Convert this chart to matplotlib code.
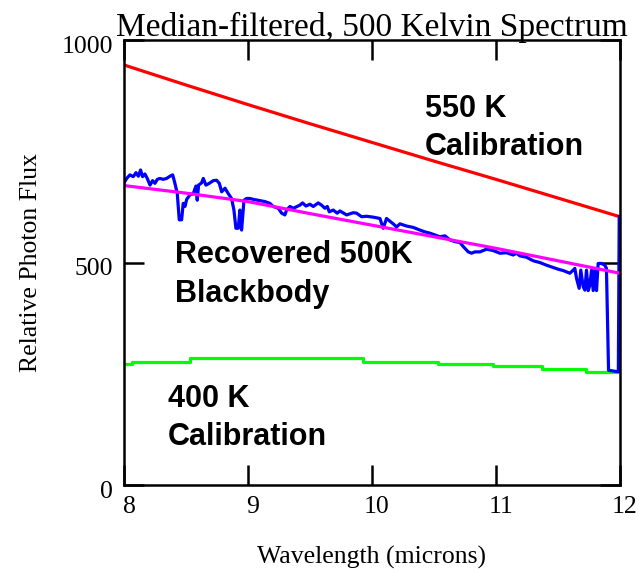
import numpy as np
import matplotlib.pyplot as plt
import matplotlib.transforms as mtransforms

# spectre filtre (median) 500 K
wl_blue = [8.000, 8.022, 8.048, 8.075, 8.097, 8.116, 8.134, 8.150, 8.169, 8.188,
           8.210, 8.231, 8.250, 8.269, 8.290, 8.317, 8.344, 8.371, 8.393, 8.411,
           8.430, 8.446, 8.465, 8.478, 8.492, 8.506, 8.532, 8.559, 8.581, 8.591,
           8.602, 8.626, 8.640, 8.661, 8.688, 8.720, 8.747, 8.769, 8.788, 8.815,
           8.841, 8.868, 8.887, 8.903, 8.922, 8.935, 8.949, 8.968, 8.989, 9.016,
           9.043, 9.097, 9.137, 9.177, 9.204, 9.245, 9.272, 9.298, 9.312, 9.339,
           9.366, 9.419, 9.441, 9.468, 9.500, 9.527, 9.567, 9.594, 9.621, 9.640,
           9.656, 9.688, 9.720, 9.742, 9.796, 9.849, 9.876, 9.917, 9.957, 10.011,
           10.065, 10.091, 10.118, 10.172, 10.199, 10.226, 10.280, 10.333, 10.387, 10.427,
           10.468, 10.508, 10.548, 10.589, 10.629, 10.669, 10.710, 10.737, 10.777, 10.804,
           10.831, 10.871, 10.925, 10.978, 11.032, 11.086, 11.140, 11.167, 11.194, 11.247,
           11.301, 11.355, 11.409, 11.462, 11.503, 11.543, 11.570, 11.597, 11.624, 11.637,
           11.651, 11.672, 11.685, 11.704, 11.718, 11.731, 11.745, 11.758, 11.772, 11.785,
           11.798, 11.812, 11.825, 11.852, 11.879, 11.892, 11.909, 11.974, 11.988, 11.995]
flux_blue = [679, 689, 697, 693, 702, 694, 708, 693, 699, 689,
             674, 684, 678, 687, 689, 687, 689, 694, 697, 678,
             655, 596, 596, 633, 626, 642, 652, 655, 672, 640,
             674, 679, 689, 674, 678, 684, 685, 678, 659, 667,
             655, 644, 618, 577, 577, 618, 573, 640, 644, 644,
             642, 639, 637, 633, 626, 622, 611, 607, 618, 626,
             622, 629, 634, 627, 631, 626, 634, 629, 622, 626,
             614, 618, 611, 616, 607, 612, 611, 603, 604, 602,
             599, 577, 599, 587, 580, 587, 582, 579, 573, 569,
             566, 562, 558, 560, 551, 547, 545, 536, 524, 521,
             524, 524, 530, 527, 521, 522, 517, 521, 515, 512,
             504, 500, 494, 489, 485, 482, 479, 476, 483, 487,
             464, 442, 483, 446, 438, 483, 437, 449, 483, 437,
             483, 437, 498, 498, 494, 487, 258, 255, 255, 603]

# corps noir 500 K reconstruit
wl_fit = [8.0, 8.5, 9.0, 9.5, 10.0, 10.5, 11.0, 11.5, 12.0]
flux_fit = [673, 656, 637, 610, 584, 558, 532, 504, 476]

# calibration 550 K
wl_550 = [8.0, 8.5, 9.0, 9.5, 10.0, 10.5, 11.0, 11.5, 12.0]
flux_550 = [944, 899, 855, 812, 770, 728, 687, 645, 603]

# calibration 400 K (paliers)
wl_400 = [8.0, 8.065, 8.53, 9.93, 10.53, 10.98, 11.37, 11.73, 12.0]
flux_400 = [272, 277, 285, 277, 272, 267, 261, 255, 255]

serif = ['Liberation Serif', 'DejaVu Serif']
sans = ['Liberation Sans', 'DejaVu Sans']

fig = plt.figure(figsize=(6.39, 5.72), dpi=100)
ax = fig.add_axes([0.194, 0.152, 0.776, 0.778])

ax.plot(wl_550, flux_550, color='#ff0000', lw=2.3)
ax.plot(wl_400, flux_400, color='#00ff00', lw=2.3, drawstyle='steps-post')
ax.plot(wl_blue, flux_blue, color='#0000ff', lw=2.3)
ax.plot(wl_fit, flux_fit, color='#ff00ff', lw=2.3)

ax.set_xlim(8, 12)
ax.set_ylim(0, 1000)
ax.set_xticks([8, 9, 10, 11, 12])
ax.set_yticks([0, 500, 1000])

for s in ax.spines.values():
    s.set_linewidth(1.8)
ax.tick_params(direction='in', length=14.5, width=1.8, top=True, right=True,
               labelsize=18.5)
ax.tick_params(axis='x', pad=8)
ax.tick_params(axis='y', pad=8)
for lab in ax.get_xticklabels() + ax.get_yticklabels():
    lab.set_fontfamily(serif)
# decalage des etiquettes comme sur l'original
dx = mtransforms.ScaledTranslation(5/100, 0, fig.dpi_scale_trans)
for lab in ax.get_xticklabels():
    lab.set_transform(lab.get_transform() + dx)
dy = mtransforms.ScaledTranslation(0, -4/100, fig.dpi_scale_trans)
for lab in ax.get_yticklabels():
    lab.set_transform(lab.get_transform() + dy)

ax.set_title("Median-filtered, 500 Kelvin Spectrum", fontsize=24, family=serif, pad=3)
ax.set_xlabel("Wavelength (microns)", fontsize=18.5, family=serif, labelpad=20)
ax.set_ylabel("Relative Photon Flux", fontsize=18.5, family=serif, labelpad=14)

kw = dict(fontsize=22, fontweight='bold', family=sans, va='baseline', ha='left')
ax.text(10.427, 828, "550 K", **kw)
ax.text(10.427, 742, "Calibration", **kw)
ax.text(8.411, 498, "Recovered 500K", **kw)
ax.text(8.411, 412, "Blackbody", **kw)
ax.text(8.357, 176, "400 K", **kw)
ax.text(8.357, 90, "Calibration", **kw)

plt.savefig("out.png", dpi=100)
